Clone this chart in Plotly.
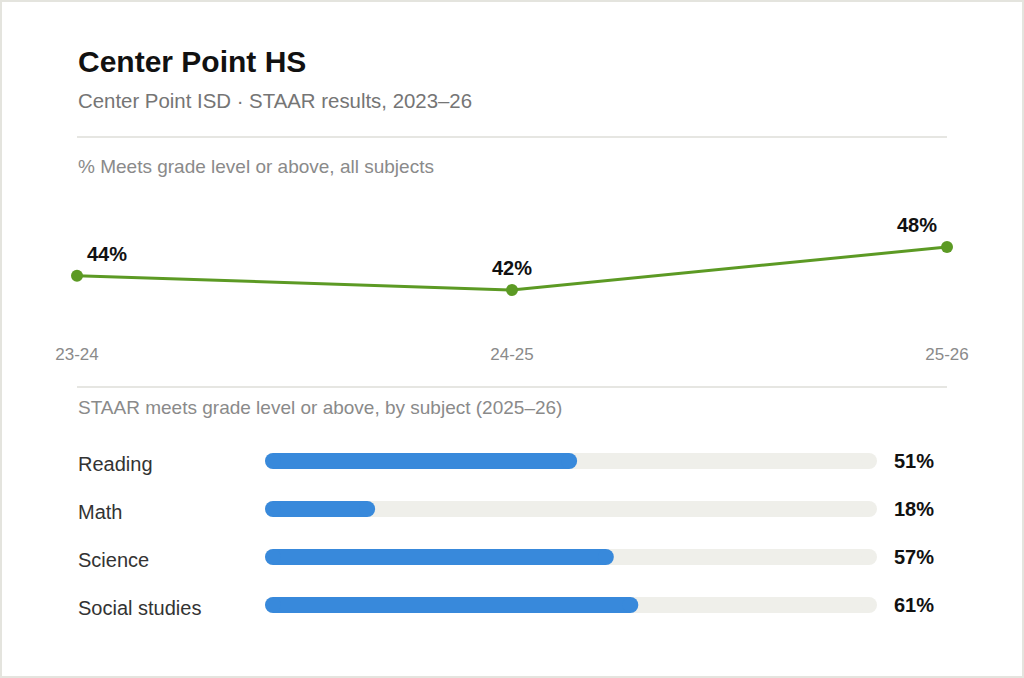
import plotly.graph_objects as go

# data
YEARS = ["23-24", "24-25", "25-26"]
MEETS_PCT = [44, 42, 48]

SUBJECTS = ["Reading", "Math", "Science", "Social studies"]
SUBJECT_PCT = [51, 18, 57, 61]
TRACK_MAX = 100

TITLE = "Center Point HS"
SUBTITLE = "Center Point ISD · STAAR results, 2023–26"
LINE_LABEL = "% Meets grade level or above, all subjects"
BAR_LABEL = "STAAR meets grade level or above, by subject (2025–26)"

W, H = 1024, 678
FONT = "Liberation Sans, Arial, sans-serif"
GREEN = "#5c9a24"
BLUE = "#3889db"
TRACK = "#efefea"
RULE = "#deded8"
BAR_H = 16  # px, thickness of the pill bars
BAR_X0, BAR_X1 = 265, 877  # px, track extents


def px_x(p):
    return p / W


def px_y(p):
    return 1 - p / H


# half the pill height in data units, so the round caps stay inside the value
cap = (BAR_H / 2) * TRACK_MAX / (BAR_X1 - BAR_X0)

fig = go.Figure()

# line chart (all subjects)
fig.add_trace(go.Scatter(
    x=YEARS, y=MEETS_PCT,
    mode="lines+markers",
    line=dict(color=GREEN, width=3),
    marker=dict(color=GREEN, size=12),
    cliponaxis=False,
    hoverinfo="skip",
    xaxis="x", yaxis="y",
))

# subject bars drawn as thick lines with round ends (track, then value)
for s, v in zip(SUBJECTS, SUBJECT_PCT):
    for end, col in ((TRACK_MAX, TRACK), (v, BLUE)):
        fig.add_trace(go.Scatter(
            x=[cap, end - cap], y=[s, s],
            mode="lines+markers",
            line=dict(color=col, width=BAR_H),
            marker=dict(color=col, size=BAR_H, line=dict(width=0)),
            cliponaxis=False,
            hoverinfo="skip",
            xaxis="x2", yaxis="y2",
        ))

annotations = [
    dict(text=TITLE, x=px_x(76), y=px_y(62), font=dict(size=30, color="#111111", weight="bold")),
    dict(text=SUBTITLE, x=px_x(76), y=px_y(101), font=dict(size=20.4, color="#757575")),
    dict(text=LINE_LABEL, x=px_x(76), y=px_y(166), font=dict(size=19, color="#8a8a8a")),
    dict(text=BAR_LABEL, x=px_x(76), y=px_y(407), font=dict(size=19, color="#8a8a8a")),
]
for a in annotations:
    a.update(xref="paper", yref="paper", xanchor="left", yanchor="middle", showarrow=False)

# point labels on the line
anchors = ["left", "center", "right"]
shifts = [8, 0, -8]
for yr, v, anc, sh in zip(YEARS, MEETS_PCT, anchors, shifts):
    annotations.append(dict(
        text=f"{v}%", x=yr, y=v, xref="x", yref="y",
        xanchor=anc, yanchor="middle", xshift=sh, yshift=22, showarrow=False,
        font=dict(size=20, color="#111111", weight="bold"),
    ))

# subject names and values
for s, v in zip(SUBJECTS, SUBJECT_PCT):
    annotations.append(dict(
        text=s, x=px_x(76), y=s, xref="paper", yref="y2",
        xanchor="left", yanchor="middle", yshift=-3, showarrow=False,
        font=dict(size=20, color="#333333"),
    ))
    annotations.append(dict(
        text=f"{v}%", x=px_x(892), y=s, xref="paper", yref="y2",
        xanchor="left", yanchor="middle", showarrow=False,
        font=dict(size=20, color="#111111", weight="bold"),
    ))

shapes = [
    dict(type="line", xref="paper", yref="paper", x0=px_x(77), x1=px_x(947),
         y0=px_y(137), y1=px_y(137), line=dict(color=RULE, width=1.5)),
    dict(type="line", xref="paper", yref="paper", x0=px_x(77), x1=px_x(947),
         y0=px_y(387), y1=px_y(387), line=dict(color=RULE, width=1.5)),
    dict(type="rect", xref="paper", yref="paper", x0=0, x1=1, y0=0, y1=1,
         line=dict(color="#e4e4de", width=4)),
]

# 48 at y=247px, 42 at y=290px
k = (290 - 247) / (48 - 42)
top_px, bot_px = 200, 342
y_hi = 48 + (247 - top_px) / k
y_lo = 42 - (bot_px - 290) / k

fig.update_layout(
    width=W, height=H,
    margin=dict(l=0, r=0, t=0, b=0, autoexpand=False),
    paper_bgcolor="white", plot_bgcolor="white",
    font=dict(family=FONT),
    showlegend=False,
    annotations=annotations,
    shapes=shapes,
    xaxis=dict(
        domain=[px_x(77), px_x(947)], type="category", range=[0, 2],
        showgrid=False, zeroline=False, showline=False, ticks="",
        tickfont=dict(size=17, color="#8a8a8a"), fixedrange=True,
        automargin=False,
    ),
    yaxis=dict(
        domain=[px_y(bot_px), px_y(top_px)], range=[y_lo, y_hi],
        visible=False, fixedrange=True, automargin=False,
    ),
    xaxis2=dict(
        domain=[px_x(BAR_X0), px_x(BAR_X1)], range=[0, TRACK_MAX],
        visible=False, anchor="y2", fixedrange=True, automargin=False,
    ),
    yaxis2=dict(
        domain=[px_y(629), px_y(437)], type="category", range=[3.5, -0.5],
        visible=False, anchor="x2", fixedrange=True, automargin=False,
    ),
)

fig.write_html(
    "out.html",
    config={"displayModeBar": False},
    post_script="document.body.style.margin='0';document.body.style.overflow='hidden';",
)
